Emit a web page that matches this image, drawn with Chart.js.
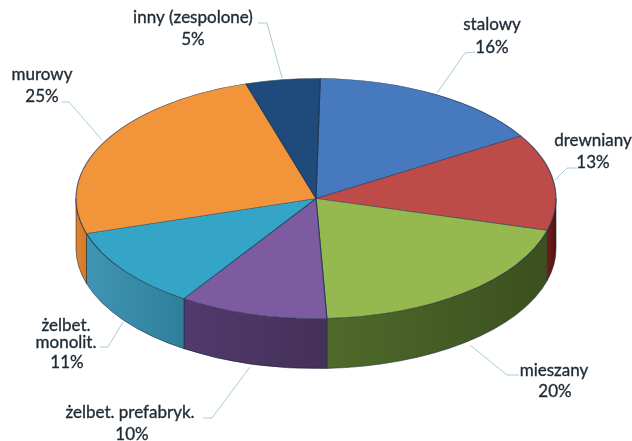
<!DOCTYPE html>
<html>
<head>
<meta charset="utf-8">
<title>Wykres</title>
<script src="https://cdn.jsdelivr.net/npm/chart.js@4"></script>
<style>
html, body { margin: 0; padding: 0; background: #fff; }
canvas { display: block; filter: blur(0.5px); }
</style>
</head>
<body>
<canvas id="chart" width="632" height="441"></canvas>
<script>
// Dane
const categories = ['stalowy', 'drewniany', 'mieszany', 'żelbet. prefabryk.', 'żelbet. monolit.', 'murowy', 'inny (zespolone)'];
const values = [16, 13, 20, 10, 11, 25, 5];

// Kolory
const topColors = ['#4679bd', '#bc4b49', '#96b94f', '#7c5ba1', '#34a5c6', '#f29439', '#1f4a7c'];
const wallColors = [
    ['#2f5488', '#2f5488'],
    ['#6e1d1b', '#541311'],
    ['#4f6a2a', '#3c4f1f'],
    ['#523a6c', '#443058'],
    ['#3f95b3', '#2f7f9b'],
    ['#e0852f', '#d07a2a'],
    ['#16365a', '#16365a']
];

// Etykiety: linie tekstu, srodek kazdej linii, linia odniesienia
const labelLines = [
    ['stalowy', '16%'],
    ['drewniany', '13%'],
    ['mieszany', '20%'],
    ['żelbet. prefabryk.', '10%'],
    ['żelbet.', 'monolit.', '11%'],
    ['murowy', '25%'],
    ['inny (zespolone)', '5%']
];
const labelAnchors = [
    [[492, 25], [492, 48]],
    [[593, 141], [593, 163]],
    [[554, 371], [555, 392]],
    [[130, 413], [132, 435]],
    [[66, 326], [66, 343], [67, 363]],
    [[42, 75], [42, 97]],
    [[193, 18], [193, 40]]
];
const leaders = [
    [[475, 52], [465, 53], [437, 93]],
    [[577, 168], [567, 168], [555, 180]],
    [[519, 375], [507, 375], [470, 345]],
    [[203, 418], [212, 418], [250, 367]],
    [[100, 347], [108, 347], [123, 322]],
    [[62, 102], [69, 102], [102, 140]],
    [[258, 23], [267, 23], [282, 78]]
];

const squash = 0.5;
const depth = 50;

// Sciany boczne i spłaszczenie kola do elipsy
const pie3d = {
    id: 'pie3d',
    beforeDatasetsDraw(chart) {
        const ctx = chart.ctx;
        const arcs = chart.getDatasetMeta(0).data;
        arcs.forEach((arc, i) => {
            const a0 = Math.max(arc.startAngle, 0);
            const a1 = Math.min(arc.endAngle, Math.PI);
            if (a1 <= a0) return;
            const rx = arc.outerRadius;
            const ry = rx * squash;
            const x0 = arc.x + rx * Math.cos(a0);
            const x1 = arc.x + rx * Math.cos(a1);
            const grad = ctx.createLinearGradient(x1, 0, x0, 0);
            grad.addColorStop(0, wallColors[i][0]);
            grad.addColorStop(1, wallColors[i][1]);
            ctx.beginPath();
            ctx.ellipse(arc.x, arc.y, rx, ry, 0, a0, a1);
            ctx.ellipse(arc.x, arc.y + depth, rx, ry, 0, a1, a0, true);
            ctx.closePath();
            ctx.fillStyle = grad;
            ctx.fill();
            ctx.strokeStyle = 'rgba(20,35,50,0.55)';
            ctx.lineWidth = 1;
            ctx.stroke();
        });
        const first = arcs[0];
        ctx.save();
        ctx.translate(first.x, first.y);
        ctx.scale(1, squash);
        ctx.translate(-first.x, -first.y);
    },
    afterDatasetsDraw(chart) {
        chart.ctx.restore();
    },
    afterDraw(chart) {
        const ctx = chart.ctx;
        ctx.save();
        ctx.strokeStyle = '#a8cbd9';
        ctx.lineWidth = 1;
        leaders.forEach(pts => {
            ctx.beginPath();
            pts.forEach((p, i) => i ? ctx.lineTo(p[0], p[1]) : ctx.moveTo(p[0], p[1]));
            ctx.stroke();
        });
        ctx.fillStyle = '#1f2b36';
        ctx.strokeStyle = '#1f2b36';
        ctx.lineWidth = 0.35;
        ctx.font = '17px Lato';
        ctx.textAlign = 'center';
        ctx.textBaseline = 'middle';
        labelLines.forEach((lines, i) => {
            lines.forEach((text, j) => {
                const p = labelAnchors[i][j];
                ctx.fillText(text, p[0], p[1]);
                ctx.strokeText(text, p[0], p[1]);
            });
        });
        ctx.restore();
    }
};

new Chart(document.getElementById('chart'), {
    type: 'pie',
    data: {
        labels: categories,
        datasets: [{
            data: values,
            backgroundColor: topColors,
            borderColor: 'rgba(25,50,75,0.7)',
            borderWidth: 1.2,
            radius: 240,
            clip: false
        }]
    },
    options: {
        responsive: false,
        animation: false,
        rotation: 1,
        layout: { padding: { bottom: 44 } },
        plugins: { legend: { display: false }, tooltip: { enabled: false } }
    },
    plugins: [pie3d]
});
</script>
</body>
</html>
